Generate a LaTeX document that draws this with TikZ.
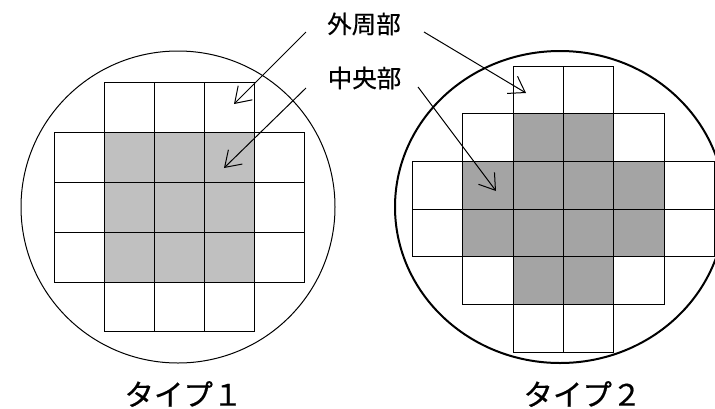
\documentclass[tikz,border=0pt]{standalone}
\usepackage{fontspec}
\newfontfamily\jp[FakeBold=0.5]{Noto Sans CJK JP}
\usetikzlibrary{arrows.meta}
\definecolor{lgray}{HTML}{C0C0C0}
\definecolor{dgray}{HTML}{A4A4A4}
\begin{document}
\begin{tikzpicture}[x=1pt,y=-1pt,
  cell/.style={draw=black,line width=0.8pt},
  arr/.style={-{Straight Barb[length=15pt,width=20pt,line width=1pt]},line width=1pt},
  lbl/.style={font=\jp\fontsize{24.5}{24.5}\selectfont,inner sep=0pt},
  typelbl/.style={font=\jp\fontsize{29.5}{29.5}\selectfont,inner sep=0pt}]
\useasboundingbox (0,0) rectangle (715,408);
% ---- left wafer (type 1)
\begin{scope}[shift={(54.3,82.3)},x=50pt,y=-49.9pt]
  \foreach \c/\r in {1/1,2/1,3/1,1/2,2/2,3/2,1/3,2/3,3/3}
    \fill[lgray] (\c,\r) rectangle ++(1,1);
  \foreach \c/\r in {1/0,2/0,3/0,
                     0/1,1/1,2/1,3/1,4/1,
                     0/2,1/2,2/2,3/2,4/2,
                     0/3,1/3,2/3,3/3,4/3,
                     1/4,2/4,3/4}
    \draw[cell] (\c,\r) rectangle ++(1,1);
\end{scope}
\draw[line width=1pt] (178,207) ellipse [x radius=157, y radius=156];
% ---- right wafer (type 2)
\begin{scope}[shift={(412.3,66)},x=50.35pt,y=-47.7pt]
  \foreach \c/\r in {2/1,3/1,1/2,2/2,3/2,4/2,1/3,2/3,3/3,4/3,2/4,3/4}
    \fill[dgray] (\c,\r) rectangle ++(1,1);
  \foreach \c/\r in {2/0,3/0,
                     1/1,2/1,3/1,4/1,
                     0/2,1/2,2/2,3/2,4/2,5/2,
                     0/3,1/3,2/3,3/3,4/3,5/3,
                     1/4,2/4,3/4,4/4,
                     2/5,3/5}
    \draw[cell] (\c,\r) rectangle ++(1,1);
\end{scope}
\draw[line width=2pt] (560,207) ellipse [x radius=165, y radius=156];
% ---- labels
\node[lbl] (outer) at (364,24) {外周部};
\node[lbl] (center) at (364.5,78) {中央部};
\node[typelbl] (t1) at (183.5,394) {タイプ１};
\node[typelbl] (t2) at (582.5,394) {タイプ２};
% ---- arrows
\coordinate (o1s) at (306,32);  \coordinate (o1e) at (234,104);
\coordinate (c1s) at (306,88);  \coordinate (c1e) at (224,168);
\coordinate (o2s) at (424,32);  \coordinate (o2e) at (526,93);
\coordinate (c2s) at (418,87);  \coordinate (c2e) at (496,191);
\draw[arr] (o1s) -- (o1e);
\draw[arr] (c1s) -- (c1e);
\draw[arr] (o2s) -- (o2e);
\draw[arr] (c2s) -- (c2e);
\end{tikzpicture}
\end{document}
